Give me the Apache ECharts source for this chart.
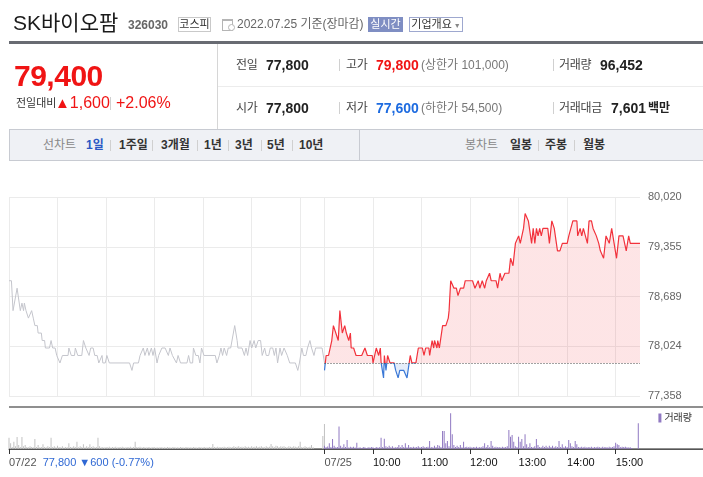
<!DOCTYPE html>
<html lang="ko">
<head>
<meta charset="utf-8">
<script src="https://cdn.jsdelivr.net/npm/echarts@6.0.0/dist/echarts.min.js"></script>
<style>
html,body{margin:0;padding:0;background:#fff;}
body{position:relative;width:703px;height:477px;overflow:hidden;font-family:"Liberation Sans","Noto Sans CJK KR",sans-serif;color:#333;}
#chart{position:absolute;left:0;top:0;width:703px;height:477px;}
.t{position:absolute;white-space:nowrap;line-height:1;}
.ln{position:absolute;}
.b{font-weight:bold;}
.lab{font-size:12px;color:#444;letter-spacing:-0.3px;}
.val{font-size:14px;font-weight:bold;color:#222;}
.sub{font-size:12px;color:#777;}
.tab{font-size:12px;font-weight:bold;color:#333;}
.tg{font-size:12px;color:#888;}
.sep{position:absolute;width:1px;background:#d0d0d0;}
</style>
</head>
<body>
<div id="chart"></div>

<!-- header -->
<div class="t" style="left:13px;top:12px;font-size:21px;color:#1a1a1a;">SK바이오팜</div>
<div class="t b" style="left:128px;top:19px;font-size:12px;color:#666;">326030</div>
<div class="t" style="left:178px;top:17px;width:33px;height:15px;box-sizing:border-box;border:1px solid #c9c9c9;font-size:11px;line-height:13px;text-align:center;color:#333;">코스피</div>
<div class="ln" style="left:222px;top:19px;width:9px;height:9px;border:1px solid #b5b5b5;border-top-width:2px;"></div>
<div class="ln" style="left:228px;top:24px;width:5px;height:5px;border:1px solid #b5b5b5;border-radius:50%;background:#fff;"></div>
<div class="t" style="left:237px;top:18px;font-size:12px;color:#666;">2022.07.25 기준(장마감)</div>
<div class="t" style="left:368px;top:17px;width:35px;height:15px;background:#7f8ec3;color:#fff;font-size:11px;line-height:15px;text-align:center;">실시간</div>
<div class="t" style="left:409px;top:17px;width:54px;height:15px;box-sizing:border-box;border:1px solid #9ea8cf;font-size:11px;line-height:13px;text-align:center;color:#333;">기업개요<span style="font-size:7px;color:#888;"> ▼</span></div>
<div class="ln" style="left:9px;top:41px;width:694px;height:3px;background:#686b72;"></div>

<!-- left price panel -->
<div class="t b" style="left:14px;top:61px;font-size:30px;color:#f01414;letter-spacing:-0.5px;">79,400</div>
<div class="t" style="left:16px;top:98px;font-size:11px;color:#333;">전일대비</div>
<div class="t" style="left:55px;top:95px;font-size:16px;color:#f01414;"><span style="font-size:15px;">▲</span>1,600</div>
<div class="sep" style="left:110px;top:97px;height:13px;"></div>
<div class="t" style="left:116px;top:95px;font-size:16px;color:#f01414;">+2.06%</div>
<div class="ln" style="left:217px;top:44px;width:1px;height:85px;background:#d6d6d6;"></div>
<div class="ln" style="left:218px;top:86px;width:485px;height:1px;background:#ececec;"></div>

<!-- info rows -->
<div class="t lab" style="left:236px;top:59px;">전일</div>
<div class="t val" style="left:266px;top:58px;">77,800</div>
<div class="sep" style="left:339px;top:59px;height:12px;"></div>
<div class="t lab" style="left:346px;top:59px;">고가</div>
<div class="t val" style="left:376px;top:58px;color:#f01414;">79,800</div>
<div class="t sub" style="left:421px;top:59px;">(상한가 101,000)</div>
<div class="sep" style="left:553px;top:59px;height:12px;"></div>
<div class="t lab" style="left:559px;top:59px;">거래량</div>
<div class="t val" style="left:600px;top:58px;">96,452</div>

<div class="t lab" style="left:236px;top:102px;">시가</div>
<div class="t val" style="left:266px;top:101px;">77,800</div>
<div class="sep" style="left:339px;top:102px;height:12px;"></div>
<div class="t lab" style="left:346px;top:102px;">저가</div>
<div class="t val" style="left:376px;top:101px;color:#1d6be0;">77,600</div>
<div class="t sub" style="left:421px;top:102px;">(하한가 54,500)</div>
<div class="sep" style="left:553px;top:102px;height:12px;"></div>
<div class="t lab" style="left:559px;top:102px;">거래대금</div>
<div class="t val" style="left:611px;top:101px;">7,601</div>
<div class="t b" style="left:648px;top:102px;font-size:12px;color:#222;">백만</div>

<!-- tabs -->
<div class="ln" style="left:9px;top:129px;width:700px;height:32px;box-sizing:border-box;border:1px solid #c8cbd2;background:#eff1f5;"></div>
<div class="ln" style="left:359px;top:129px;width:1px;height:32px;background:#c8cbd2;"></div>
<div class="t tg" style="left:43px;top:139px;">선차트</div>
<div class="t tab" style="left:86px;top:139px;color:#2a57c4;">1일</div>
<div class="sep" style="left:110px;top:140px;height:11px;"></div>
<div class="t tab" style="left:119px;top:139px;">1주일</div>
<div class="sep" style="left:152px;top:140px;height:11px;"></div>
<div class="t tab" style="left:161px;top:139px;">3개월</div>
<div class="sep" style="left:197px;top:140px;height:11px;"></div>
<div class="t tab" style="left:204px;top:139px;">1년</div>
<div class="sep" style="left:228px;top:140px;height:11px;"></div>
<div class="t tab" style="left:235px;top:139px;">3년</div>
<div class="sep" style="left:261px;top:140px;height:11px;"></div>
<div class="t tab" style="left:267px;top:139px;">5년</div>
<div class="sep" style="left:292px;top:140px;height:11px;"></div>
<div class="t tab" style="left:299px;top:139px;">10년</div>
<div class="t tg" style="left:465px;top:139px;">봉차트</div>
<div class="t tab" style="left:510px;top:139px;">일봉</div>
<div class="sep" style="left:538px;top:140px;height:11px;"></div>
<div class="t tab" style="left:545px;top:139px;">주봉</div>
<div class="sep" style="left:574px;top:140px;height:11px;"></div>
<div class="t tab" style="left:583px;top:139px;">월봉</div>

<script>
// ---------- data ----------
const prevDate = '07/22';
const todayDate = '07/25';
const prevClose = 77800;
const priceMin = 77358;
const priceMax = 80020;
const priceTickLabels = ['77,358', '78,024', '78,689', '79,355', '80,020'];
const timeTickSlots = [0, 390, 450, 510, 570, 630, 690, 750];
const timeTickLabels = ['07/22', '07/25', '10:00', '11:00', '12:00', '13:00', '14:00', '15:00'];
const gridLineSlots = [0, 60, 120, 180, 240, 300, 360, 390, 450, 510, 570, 630, 690, 750];
const prevSummary = '77,800 ▼600 (-0.77%)';

// [minutes since 09:00, price]
const prevDayPrices = [
  [0,78900],[3,78900],[5,78500],[10,78800],[14,78500],[16,78600],[18,78500],[19,78600],[21,78500],
  [24,78400],[26,78400],[28,78500],[30,78400],[32,78300],[35,78300],[36,78200],[40,78200],[41,78100],
  [44,78100],[45,78000],[50,78000],[52,78100],[54,78000],[57,78000],[59,77900],[61,77900],[63,77800],
  [66,77900],[73,77900],[74,78000],[77,77900],[81,77900],[82,78000],[85,77900],[90,77900],[92,78100],
  [95,78000],[97,78000],[99,77900],[101,78000],[104,78000],[106,77900],[109,77900],[111,77800],
  [113,77800],[115,77900],[116,77800],[119,77800],[121,77900],[124,77800],[149,77800],[152,77700],
  [154,77800],[160,77800],[162,77900],[166,78000],[168,77900],[171,78000],[173,77900],[176,78000],
  [178,77900],[180,78000],[183,77800],[185,77900],[189,78000],[193,78000],[197,77900],[199,78000],
  [202,77900],[207,77800],[209,77900],[212,77800],[220,77800],[222,77900],[224,77800],[227,77800],
  [228,78000],[231,77900],[234,77900],[236,77800],[238,78000],[241,77900],[255,77900],[257,77800],
  [260,77900],[262,78000],[264,77900],[266,78000],[269,77900],[271,78000],[274,78000],[279,78300],
  [282,78100],[283,78000],[288,78000],[291,77900],[293,78000],[295,77900],[298,78100],[300,78000],
  [303,78100],[305,78000],[308,78100],[311,78100],[313,77900],[316,78000],[318,77900],[321,77900],
  [323,78000],[326,78000],[328,77900],[330,78000],[332,77800],[335,78000],[337,77900],[340,78000],
  [342,78000],[344,77900],[347,77800],[354,77800],[357,77700],[359,77800],[362,78000],[364,77900],
  [367,77900],[369,78000],[372,78100],[374,78000],[377,77900],[379,78000],[387,78000],[390,77800]
];
const todayPrices = [
  [0,77700],[2,77900],[5,77900],[9,78100],[11,78300],[13,78300],[17,78100],[19,78500],[22,78200],
  [25,78300],[27,78200],[30,78100],[32,78200],[33,78000],[36,78000],[39,77900],[46,77900],[50,78000],
  [53,77900],[59,77900],[60,77800],[64,78000],[67,77900],[69,78000],[70,77800],[73,77600],[74,77900],
  [76,77700],[78,77900],[81,77800],[86,77800],[88,77700],[91,77600],[93,77700],[98,77700],[102,77600],
  [104,77600],[106,77900],[108,77800],[113,77800],[116,78000],[121,78000],[123,77900],[125,78000],
  [129,78000],[130,77900],[133,78100],[135,78000],[136,78100],[139,78000],[140,78100],[142,78000],
  [144,78000],[146,78300],[150,78300],[153,78400],[154,78500],[156,78900],[158,78900],[160,78800],
  [163,78800],[165,78700],[168,78800],[172,78800],[174,78900],[183,78900],[186,78800],[188,78800],
  [190,78900],[192,78800],[195,78900],[198,78800],[200,78900],[204,79000],[206,78900],[212,78900],
  [214,78800],[217,79000],[219,78900],[223,79000],[228,79000],[230,79200],[233,79100],[236,79400],
  [238,79400],[240,79500],[242,79400],[246,79600],[248,79800],[250,79800],[252,79700],[256,79400],
  [258,79600],[260,79400],[262,79600],[264,79500],[266,79600],[268,79500],[270,79600],[276,79600],
  [278,79400],[281,79700],[284,79600],[286,79600],[288,79300],[291,79300],[294,79400],[300,79400],
  [302,79500],[304,79500],[307,79700],[312,79700],[313,79500],[316,79600],[318,79500],[320,79600],
  [322,79600],[325,79400],[327,79700],[330,79700],[332,79600],[334,79600],[336,79500],[339,79400],
  [341,79300],[343,79300],[345,79200],[348,79500],[350,79500],[352,79400],[355,79600],[358,79400],
  [361,79200],[364,79500],[369,79500],[373,79300],[376,79500],[378,79400],[390,79400]
];
// volume, one value per 2 minutes from 09:00
const volumeStep = 2;
const prevVolumes = [
  1620,810,300,1050,400,1710,570,300,1710,400,
  570,300,250,400,300,250,1430,300,570,250,
  300,670,300,250,400,300,1620,300,400,250,
  480,300,250,400,200,300,250,810,300,250,
  400,300,1050,250,400,300,670,250,400,300,
  670,300,400,250,300,1620,400,250,300,200,
  300,250,330,200,300,250,330,200,300,250,
  330,250,200,300,250,330,200,300,1050,300,
  250,330,200,300,250,200,300,250,200,300,
  250,200,250,200,300,200,250,200,300,250,
  200,250,300,200,250,200,300,250,200,250,
  300,200,250,200,300,250,200,250,300,200,
  250,300,200,250,300,250,710,300,250,330,
  250,300,250,330,250,300,330,250,300,400,
  300,330,400,300,330,250,400,300,330,250,
  400,300,330,400,300,330,400,300,250,400,
  300,330,710,400,300,480,400,300,400,330,
  400,300,250,400,330,300,400,330,300,400,
  1050,300,250,400,300,250,330,570,250,0,
  0,0,0,0,1860,3570
];
const todayVolumes = [
  450,300,350,810,300,1430,480,250,300,3200,
  480,250,670,300,1290,200,330,250,330,200,
  900,190,250,150,290,250,150,250,200,300,
  250,150,300,200,250,1620,300,1480,380,250,
  480,250,380,200,250,300,570,250,570,300,
  810,250,570,300,250,330,250,300,380,250,
  300,380,250,300,330,1140,300,250,480,300,
  570,480,300,2570,2570,810,1140,400,5100,2100,
  570,300,480,300,570,250,1050,300,330,250,
  330,200,300,250,330,200,300,250,380,810,
  300,570,250,1140,480,250,330,250,300,200,
  330,250,300,400,2710,1760,2000,1050,400,300,
  1760,1050,1430,400,2100,670,300,810,300,250,
  400,1430,570,300,250,480,300,480,250,480,
  300,480,250,400,300,1140,300,670,250,400,
  300,1290,810,400,300,1140,670,300,250,330,
  250,330,200,300,250,330,200,300,250,330,
  250,200,330,250,300,200,330,250,300,400,
  900,670,570,250,330,300,330,250,200,250,
  150,0,0,0,3670
];

// ---------- time slots (one per minute, two sessions back to back) ----------
const SESSION = 390;
const PRICE_SLOTS = 781;
const VOLUME_SLOTS = 859;
function slotName(i) {
  const today = i >= SESSION;
  const m = today ? i - SESSION : i;
  const h = 9 + Math.floor(m / 60), mm = m % 60;
  return (today ? todayDate : prevDate) + ' ' + String(h).padStart(2, '0') + ':' + String(mm).padStart(2, '0');
}
const slots = Array.from({ length: VOLUME_SLOTS }, (_, i) => slotName(i));

const UP = '#f2323c', DOWN = '#3a78d6';
const FONT = "'Liberation Sans','Noto Sans CJK KR',sans-serif";
const chart = echarts.init(document.getElementById('chart'), null, { renderer: 'canvas' });
chart.setOption({
  animation: false,
  backgroundColor: 'transparent',
  textStyle: { fontFamily: FONT },
  grid: [
    { left: 9, top: 197, width: 631, height: 199, outerBoundsMode: 'none' },
    { left: 9, top: 407, width: 694, height: 42, outerBoundsMode: 'none' }
  ],
  legend: {
    data: ['거래량'], right: 11, top: 413, icon: 'rect', itemWidth: 3, itemHeight: 9,
    padding: 0, selectedMode: false,
    textStyle: { fontSize: 10, color: '#333', fontFamily: FONT, padding: [0, 0, 0, -2] }
  },
  visualMap: [{
    type: 'piecewise', show: false, seriesIndex: 1, dimension: 1,
    pieces: [
      { lte: prevClose, color: DOWN },
      { gt: prevClose, lte: priceMax, color: UP },
      { gt: priceMax, color: UP }
    ]
  }],
  xAxis: [
    {
      type: 'category', gridIndex: 0, data: slots.slice(0, PRICE_SLOTS), boundaryGap: false,
      axisLine: { show: false }, axisTick: { show: false }, axisLabel: { show: false },
      splitLine: { show: true, interval: (i) => gridLineSlots.includes(i), lineStyle: { color: '#ebebeb', width: 1 } }
    },
    {
      type: 'category', gridIndex: 1, data: slots, boundaryGap: false,
      axisLine: { show: true, lineStyle: { color: '#555', width: 1 } },
      axisTick: { show: true, interval: (i) => timeTickSlots.includes(i), length: 5, lineStyle: { color: '#333' } },
      splitLine: { show: false },
      axisLabel: {
        interval: (i) => timeTickSlots.includes(i),
        align: 'left', margin: 8, fontSize: 11, fontFamily: FONT,
        formatter: (v, i) => {
          const k = timeTickSlots.indexOf(i);
          if (k < 0) return '';
          const lab = timeTickLabels[k];
          if (i === 0) return '{d|' + lab + '}  {s|' + prevSummary + '}';
          if (lab.indexOf('/') >= 0) return '{d|' + lab + '}';
          return '{t|' + lab + '}';
        },
        rich: {
          d: { color: '#555', fontSize: 11, fontFamily: FONT },
          s: { color: '#2f68d4', fontSize: 11, fontFamily: FONT },
          t: { color: '#111', fontSize: 11, fontFamily: FONT }
        }
      }
    }
  ],
  yAxis: [
    { type: 'value', gridIndex: 0, min: priceMin, max: priceMax, show: false },
    {
      type: 'value', gridIndex: 0, min: 0, max: priceTickLabels.length - 1, interval: 1, position: 'right',
      axisLine: { show: false }, axisTick: { show: false },
      axisLabel: { formatter: (v) => priceTickLabels[v], margin: 8, color: '#666', fontSize: 11, fontFamily: FONT },
      splitLine: { show: true, lineStyle: { color: '#ebebeb', width: 1 } }
    },
    {
      type: 'value', gridIndex: 1, min: 0, max: 6000, interval: 6000,
      axisLine: { show: false }, axisTick: { show: false }, axisLabel: { show: false },
      splitLine: { show: true, lineStyle: { color: '#6a6a6a', width: 1.5 } }
    }
  ],
  series: [
    {
      type: 'line', name: prevDate, xAxisIndex: 0, yAxisIndex: 0,
      data: prevDayPrices.map(([m, p]) => [m, p]),
      symbol: 'none', silent: true, z: 2,
      lineStyle: { color: '#c4c5cc', width: 1 }
    },
    {
      type: 'line', name: todayDate, xAxisIndex: 0, yAxisIndex: 0,
      data: todayPrices.map(([m, p]) => [SESSION + m, p]),
      symbol: 'none', silent: true, z: 3,
      lineStyle: { width: 1.2 },
      areaStyle: { origin: prevClose, opacity: 0.13 },
      markLine: {
        symbol: 'none', silent: true, label: { show: false },
        lineStyle: { color: '#444', type: [1, 2], width: 1 },
        data: [[{ coord: [SESSION, prevClose] }, { coord: [2 * SESSION, prevClose] }]]
      }
    },
    {
      type: 'bar', name: prevDate + ' 거래량', xAxisIndex: 1, yAxisIndex: 2,
      data: prevVolumes.map((v, k) => [k * volumeStep, v]),
      barWidth: 1, barGap: '-100%', silent: true,
      itemStyle: { color: '#c2c2c2' }
    },
    {
      type: 'bar', name: '거래량', xAxisIndex: 1, yAxisIndex: 2,
      data: todayVolumes.map((v, k) => [SESSION + k * volumeStep, v]),
      barWidth: 1, barGap: '-100%', silent: true,
      itemStyle: { color: '#9079c2' }
    }
  ]
});
</script>
</body>
</html>
